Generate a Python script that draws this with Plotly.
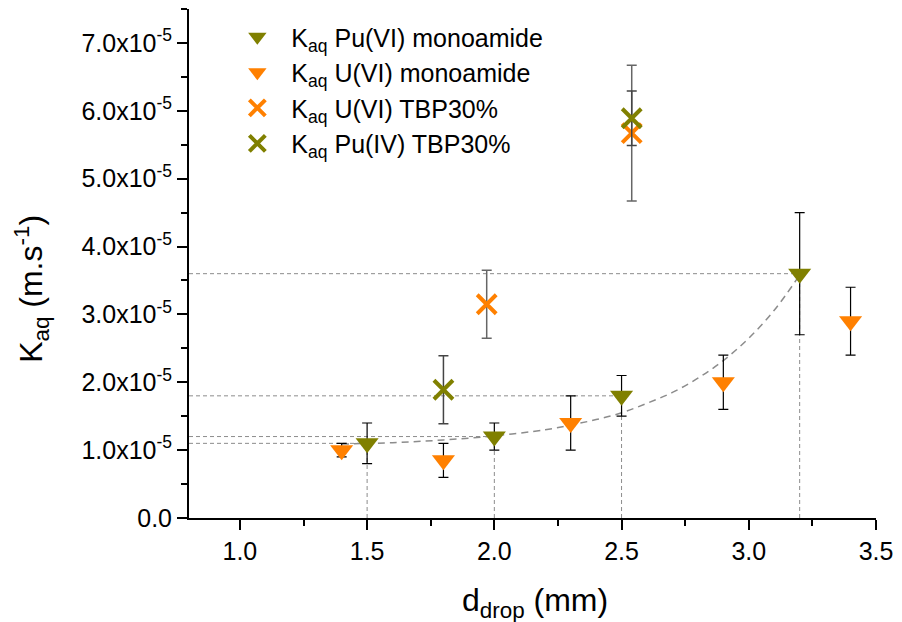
import plotly.graph_objects as go

# ---- data (values in units of 1e-5 m/s) ----
SCALE = 1e-5

pu_mono_x = [1.5, 2.0, 2.5, 3.2]
pu_mono_y = [1.1, 1.2, 1.8, 3.6]
pu_mono_err = [0.3, 0.2, 0.3, 0.9]

u_mono_x = [1.4, 1.8, 2.3, 2.9, 3.4]
u_mono_y = [1.0, 0.85, 1.4, 2.0, 2.9]
u_mono_err = [0.1, 0.25, 0.4, 0.4, 0.5]

u_tbp_x = [1.97, 2.54]
u_tbp_y = [3.15, 5.67]
u_tbp_err = [0.5, 1.0]

pu_tbp_x = [1.8, 2.54]
pu_tbp_y = [1.89, 5.89]
pu_tbp_err = [0.5, 0.4]

# exponential fit curve
fit_x = [1.4, 1.6, 1.8, 2.0, 2.2, 2.3, 2.4, 2.5, 2.6, 2.7, 2.8, 2.9, 3.0, 3.1, 3.2]
fit_y = [1.09, 1.11, 1.15, 1.21, 1.30, 1.37, 1.45, 1.55, 1.69, 1.85, 2.06, 2.32, 2.65, 3.06, 3.58]

y_tickvals = [0, 1, 2, 3, 4, 5, 6, 7]
y_ticktext = ["0.0", "1.0x10<sup>-5</sup>", "2.0x10<sup>-5</sup>", "3.0x10<sup>-5</sup>",
              "4.0x10<sup>-5</sup>", "5.0x10<sup>-5</sup>", "6.0x10<sup>-5</sup>", "7.0x10<sup>-5</sup>"]

labels = ["K<sub>aq</sub> Pu(VI) monoamide", "K<sub>aq</sub> U(VI) monoamide",
          "K<sub>aq</sub> U(VI) TBP30%", "K<sub>aq</sub> Pu(IV) TBP30%"]

OLIVE = "#808000"
ORANGE = "#FF8000"
FONT = "Liberation Sans, Arial, sans-serif"
X_MIN, X_MAX = 0.8, 3.5
Y_MIN, Y_MAX = 0.0, 7.5

def s(v):
    return [a * SCALE for a in v]

fig = go.Figure()

# drop lines from the Pu(VI) monoamide points to the axes
for xv, yv in zip(pu_mono_x, pu_mono_y):
    fig.add_trace(go.Scatter(x=[X_MIN, xv], y=[yv * SCALE, yv * SCALE], mode="lines",
                             line=dict(color="#8c8c8c", width=1, dash="4px,3px"),
                             showlegend=False, hoverinfo="skip"))
    fig.add_trace(go.Scatter(x=[xv, xv], y=[0, yv * SCALE], mode="lines",
                             line=dict(color="#8c8c8c", width=1, dash="4px,3px"),
                             showlegend=False, hoverinfo="skip"))

# fit curve
fig.add_trace(go.Scatter(x=fit_x, y=s(fit_y), mode="lines",
                         line=dict(color="#8c8c8c", width=1.5, dash="7px,5px", shape="spline"),
                         showlegend=False, hoverinfo="skip"))

tri_size = 20
x_size = 19

fig.add_trace(go.Scatter(
    x=pu_mono_x, y=s(pu_mono_y), mode="markers", name=labels[0],
    marker=dict(symbol="triangle-down", size=tri_size, color=OLIVE, line=dict(width=0)),
    error_y=dict(type="data", array=s(pu_mono_err), color="black", thickness=1.2, width=5)))

fig.add_trace(go.Scatter(
    x=u_mono_x, y=s(u_mono_y), mode="markers", name=labels[1],
    marker=dict(symbol="triangle-down", size=tri_size, color=ORANGE, line=dict(width=0)),
    error_y=dict(type="data", array=s(u_mono_err), color="black", thickness=1.2, width=5)))

fig.add_trace(go.Scatter(
    x=u_tbp_x, y=s(u_tbp_y), mode="markers", name=labels[2],
    marker=dict(symbol="x-thin", size=x_size, color=ORANGE, line=dict(width=4, color=ORANGE)),
    error_y=dict(type="data", array=s(u_tbp_err), color="#666666", thickness=1.5, width=5)))

fig.add_trace(go.Scatter(
    x=pu_tbp_x, y=s(pu_tbp_y), mode="markers", name=labels[3],
    marker=dict(symbol="x-thin", size=x_size, color=OLIVE, line=dict(width=4, color=OLIVE)),
    error_y=dict(type="data", array=s(pu_tbp_err), color="#444444", thickness=1.5, width=5)))

axis_common = dict(showline=True, linewidth=2, linecolor="black", mirror=False,
                   showgrid=False, zeroline=False, ticks="outside", ticklen=10,
                   tickwidth=2, tickcolor="black",
                   tickfont=dict(family=FONT, size=25, color="black"))

fig.update_layout(
    width=902, height=622, autosize=False,
    margin=dict(l=189, r=22, t=9, b=104),
    paper_bgcolor="white", plot_bgcolor="white",
    font=dict(family=FONT, color="black"),
    xaxis=dict(range=[X_MIN, X_MAX], tickmode="linear", tick0=1.0, dtick=0.5,
               tickformat=".1f",
               minor=dict(tickmode="linear", tick0=0.75, dtick=0.25, ticks="outside",
                          ticklen=6, tickwidth=2, tickcolor="black"),
               **axis_common),
    yaxis=dict(range=[Y_MIN * SCALE, Y_MAX * SCALE], tickmode="array",
               tickvals=s(y_tickvals), ticktext=y_ticktext,
               minor=dict(tickmode="linear", tick0=0, dtick=0.5 * SCALE, ticks="outside",
                          ticklen=6, tickwidth=2, tickcolor="black"),
               **axis_common),
    legend=dict(x=0.05, y=0.99, xanchor="left", yanchor="top",
                bgcolor="rgba(0,0,0,0)", borderwidth=0,
                font=dict(family=FONT, size=25, color="black"),
                tracegroupgap=0, itemwidth=58),
    showlegend=True,
    annotations=[
        dict(text="K<sub>aq</sub> (m.s<sup>-1</sup>)", xref="paper", yref="paper",
             x=-0.2287, y=0.45, xanchor="center", yanchor="middle", textangle=-90,
             showarrow=False, font=dict(family=FONT, size=32, color="black")),
        dict(text="d<sub>drop</sub> (mm)", xref="paper", yref="paper",
             x=0.503, y=-0.122, xanchor="center", yanchor="top",
             showarrow=False, font=dict(family=FONT, size=32, color="black")),
    ],
)

fig.write_html("out.html")
